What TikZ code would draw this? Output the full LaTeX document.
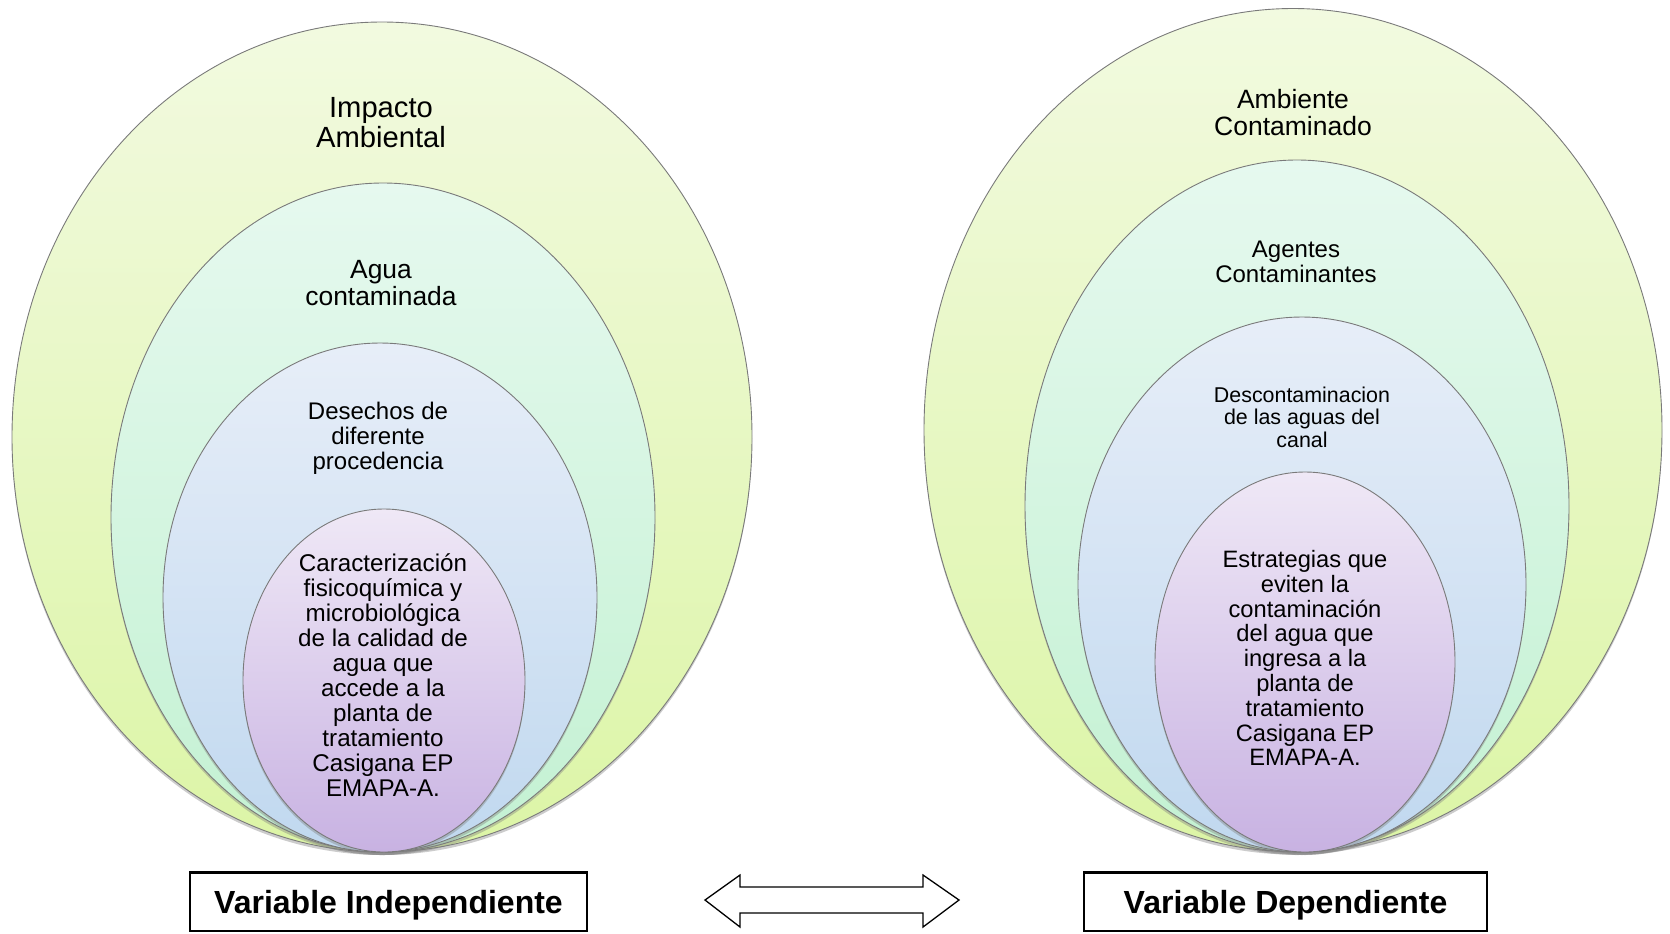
\documentclass[tikz,border=0pt]{standalone}
\usepackage{fontspec}
\setmainfont{Liberation Sans}
\usepackage{tikz}
\usetikzlibrary{shapes.geometric,shadows}

\definecolor{verdeA}{HTML}{F2FAE0}
\definecolor{verdeB}{HTML}{DCF5A6}
\definecolor{mentaA}{HTML}{E6F9EF}
\definecolor{mentaB}{HTML}{C3F1D2}
\definecolor{azulA}{HTML}{E7EEF8}
\definecolor{azulB}{HTML}{C0D8EF}
\definecolor{lilaA}{HTML}{EFE8F6}
\definecolor{lilaB}{HTML}{C8B2E2}
\definecolor{borde}{HTML}{7A7A7A}

\begin{document}
\begin{tikzpicture}[x=0.5pt,y=-0.5pt]
	\tikzstyle{ring}=[draw=borde,line width=0.45pt,shape=ellipse,inner sep=0pt,outer sep=0pt,drop shadow={opacity=0.4,shadow xshift=0pt,shadow yshift=-1.5pt}];
	\tikzstyle{ringtext}=[align=center,inner sep=0pt];
	\tikzstyle{varbox}=[draw,line width=0.6pt,inner sep=0pt,minimum height=29pt,text height=12pt,text depth=1pt,font=\bfseries\fontsize{16}{18}\selectfont];
	\useasboundingbox (0,0) rectangle (1670,933);
	% variable independiente
	\node[ring,top color=verdeA,bottom color=verdeB,minimum width=370pt,minimum height=415pt] (i1) at (382,437) {};
	\node[ring,top color=mentaA,bottom color=mentaB,minimum width=272pt,minimum height=334.5pt] (i2) at (383,517.5) {};
	\node[ring,top color=azulA,bottom color=azulB,minimum width=217pt,minimum height=254.5pt] (i3) at (380,597.5) {};
	\node[ring,top color=lilaA,bottom color=lilaB,minimum width=141pt,minimum height=171.5pt] (i4) at (384,680.5) {};
	\node[ringtext,font=\fontsize{14.6}{15}\selectfont] (ti1) at (381,123) {Impacto\\Ambiental};
	\node[ringtext,font=\fontsize{13.2}{13.3}\selectfont] (ti2) at (381,283) {Agua\\contaminada};
	\node[ringtext,font=\fontsize{12}{12.5}\selectfont] (ti3) at (378,438) {Desechos de\\diferente\\procedencia};
	\node[ringtext,font=\fontsize{12.1}{12.5}\selectfont] (ti4) at (383,675) {Caracterización\\fisicoquímica y\\microbiológica\\de la calidad de\\agua que\\accede a la\\planta de\\tratamiento\\Casigana EP\\EMAPA-A.};
	% variable dependiente
	\node[ring,top color=verdeA,bottom color=verdeB,minimum width=369pt,minimum height=421.5pt] (d1) at (1293,430) {};
	\node[ring,top color=mentaA,bottom color=mentaB,minimum width=272pt,minimum height=346pt] (d2) at (1297,506) {};
	\node[ring,top color=azulA,bottom color=azulB,minimum width=224pt,minimum height=267.5pt] (d3) at (1302,584.5) {};
	\node[ring,top color=lilaA,bottom color=lilaB,minimum width=150pt,minimum height=190pt] (d4) at (1305,662) {};
	\node[ringtext,font=\fontsize{13.25}{13.3}\selectfont] (td1) at (1293,112.5) {Ambiente\\Contaminado};
	\node[ringtext,font=\fontsize{12}{12.25}\selectfont] (td2) at (1296,262) {Agentes\\Contaminantes};
	\node[ringtext,font=\fontsize{10.7}{11.2}\selectfont] (td3) at (1302,417) {Descontaminacion\\de las aguas del\\canal};
	\node[ringtext,font=\fontsize{11.85}{12.4}\selectfont] (td4) at (1305,658) {Estrategias que\\eviten la\\contaminación\\del agua que\\ingresa a la\\planta de\\tratamiento\\Casigana EP\\EMAPA-A.};
	% cajas
	\node[varbox,minimum width=198.5pt] (vi) at (388.5,902) {Variable Independiente};
	\node[varbox,minimum width=201.5pt] (vd) at (1285.5,902) {Variable Dependiente};
	\draw[line width=1.1pt] (vi.north west) -- (vi.north east)
	(vd.north west) -- (vd.north east);
	% flecha doble
	\draw[line width=0.65pt,fill=white] (705,900) -- (740,875) -- (740,887) -- (923,887) -- (923,875) -- (959,900)
	-- (923,927) -- (923,913) -- (740,913) -- (740,927) -- cycle;
\end{tikzpicture}
\end{document}
